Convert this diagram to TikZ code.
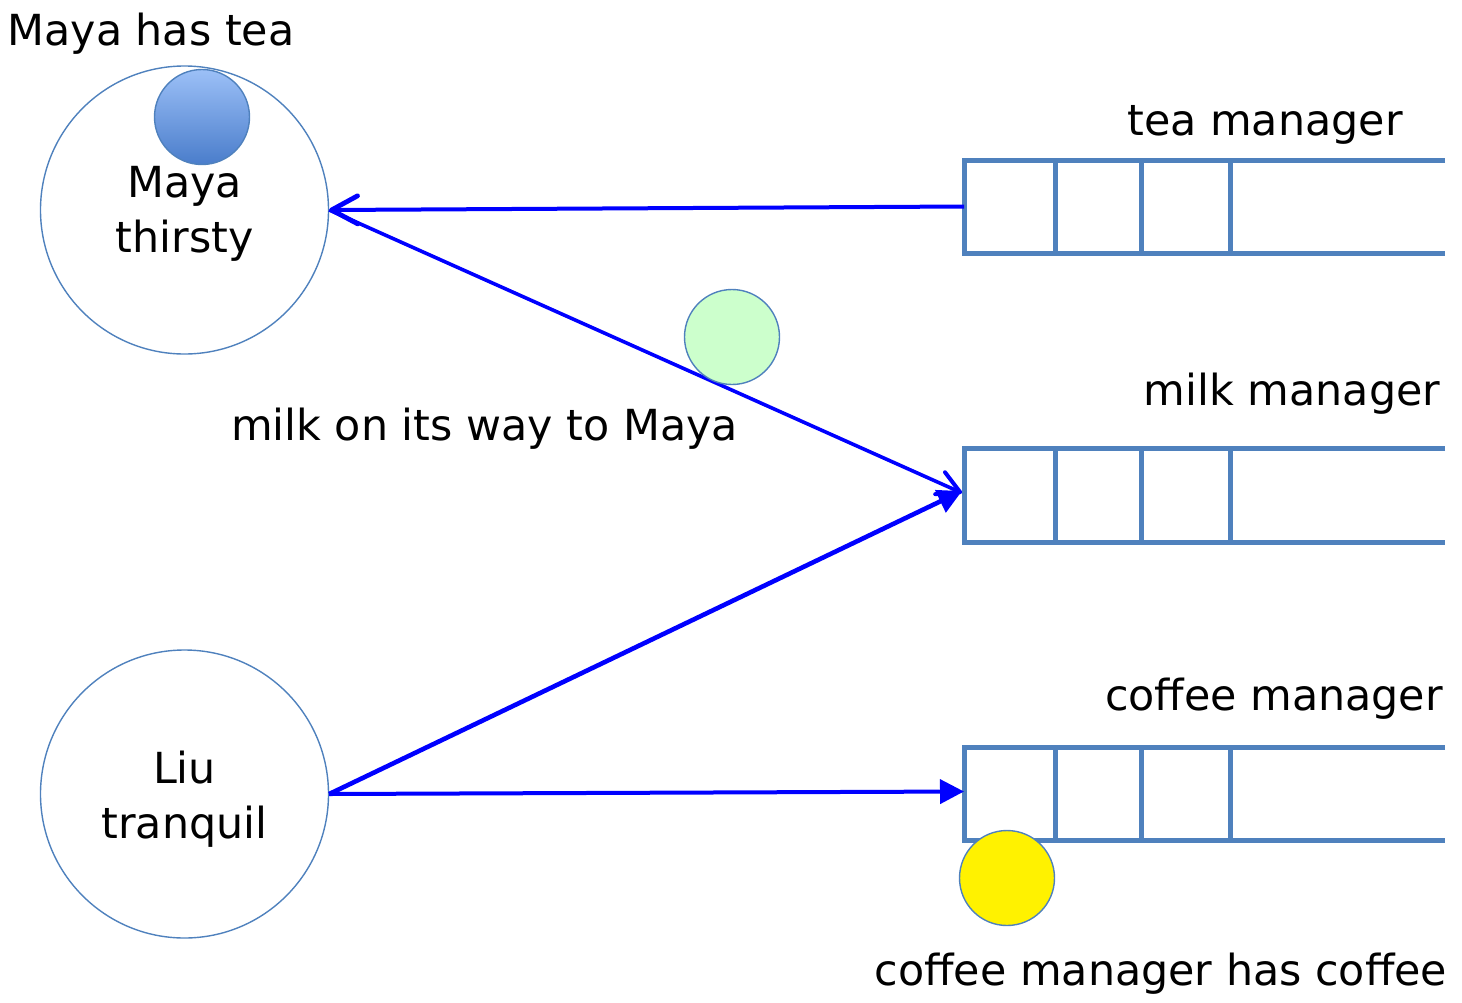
\documentclass[tikz,border=0pt]{standalone}
\usepackage{fontspec}
\setmainfont{DejaVu Sans}
\usetikzlibrary{arrows.meta,calc}
\definecolor{qblue}{HTML}{4F81BD}
\definecolor{ablue}{HTML}{0000FF}
\definecolor{milkgreen}{HTML}{CCFFCC}
\definecolor{balltop}{HTML}{9CC0F7}
\definecolor{ballbot}{HTML}{4A7DCB}
\tikzset{
  lbl/.style={font=\fontsize{21.4}{27.5}\selectfont, inner sep=0, anchor=base, text=black},
  person/.style={circle, draw=qblue, line width=0.7pt, minimum size=144pt, inner sep=0},
  pname/.style={font=\fontsize{21.4}{27.5}\selectfont, align=center, inner sep=0},
  qline/.style={draw=qblue, line width=2.5pt},
  ball/.style={circle, draw=qblue, line width=0.7pt, minimum size=47.5pt, inner sep=0},
  flow/.style={draw=ablue, line width=2pt},
  barb/.style={flow, -{Straight Barb[length=13pt, width=14pt, line width=2.4pt, round]}},
  tri/.style={flow, -{Triangle[length=12pt, width=12pt]}},
}
\begin{document}
\begin{tikzpicture}[x=0.5pt, y=-0.5pt]
\useasboundingbox (0,0) rectangle (1462,1002);

% person circles
\node[person] (maya) at (184.5,210) {};
\node[person] (liu) at (184.5,794) {};
\node[pname] (mayatxt) at (184.5,214) {Maya\\thirsty};
\node[pname] (liutxt) at (184.5,799) {Liu\\tranquil};

% blue ball (tea) at Maya
\node[ball, top color=balltop, bottom color=ballbot] (tea) at (202,117) {};

% queues
\foreach \nm/\yt/\yb in {teaq/160/253, milkq/448/542, coffq/747/840}{
  \draw[qline] (1445,\yt) -- (964,\yt) -- (964,\yb) -- (1445,\yb);
  \foreach \xx in {1055,1141,1230}{
    \draw[qline] (\xx,\yt) -- (\xx,\yb);
  }
  \coordinate (\nm) at (964,{(\yt+\yb)/2});
}

% arrows
\draw[barb] (teaq) -- (maya.east);
\draw[flow, line width=1.8pt, -{Straight Barb[length=11pt, width=12pt, line width=2pt, round]}] (maya.east) -- ($(milkq)+(-2,-2)$);
\draw[tri, line width=2.3pt] (liu.east) -- ($(milkq)+(-2,-4)$);
\draw[tri] (liu.east) -- ($(coffq)+(0,-2)$);

% balls
\node[ball, fill=milkgreen] (milk) at (732,337) {};
\node[ball, fill=yellow] (coffee) at (1007,878) {};

% labels
\node[lbl] (l1) at (151,45) {Maya has tea};
\node[lbl] (l2) at (1265,135) {tea manager};
\node[lbl] (l3) at (1292,405) {milk manager};
\node[lbl] (l4) at (484.5,440) {milk on its way to Maya};
\node[lbl] (l5) at (1274,710) {coffee manager};
\node[lbl] (l6) at (1161,985) {coffee manager has coffee};
\end{tikzpicture}
\end{document}
